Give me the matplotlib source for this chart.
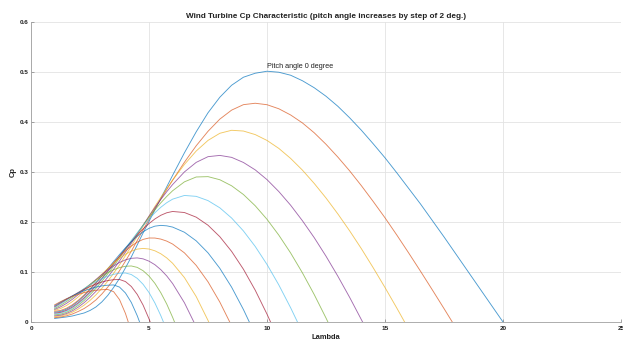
import matplotlib
matplotlib.use("Agg")
import matplotlib.pyplot as plt

plt.rcParams['font.family'] = ['Liberation Sans', 'DejaVu Sans']

# tip speed ratio sample points shared by all curves
lam = [1.0, 1.25, 1.5, 1.75, 2.0, 2.25, 2.5, 2.75, 3.0, 3.25, 3.5, 3.75, 4.0, 4.25,
       4.5, 4.75, 5.0, 5.25, 5.5, 5.75, 6.0, 6.5, 7.0, 7.5, 8.0, 8.5, 9.0, 9.5,
       10.0, 10.5, 11.0, 11.5, 12.0, 12.5, 13.0, 13.5, 14.0, 14.5, 15.0, 15.5,
       16.0, 16.5, 17.0, 17.5, 18.0, 18.5, 19.0, 19.5]

pitch = [0, 2, 4, 6, 8, 10, 12, 14, 16, 18, 20, 22, 24, 26, 28, 30]

# lambda where each curve reaches Cp = 0
lam_zero = [20.0, 17.85, 15.83, 14.05, 12.58, 11.29, 10.15, 9.25, 8.42, 7.53,
            6.9, 6.08, 5.61, 5.05, 4.6, 4.12]

cp_00 = [0.007, 0.0085, 0.010, 0.012, 0.015, 0.018, 0.023, 0.030, 0.040, 0.053,
         0.069, 0.087, 0.108, 0.130, 0.154, 0.178, 0.201, 0.224, 0.247, 0.270,
         0.293, 0.338, 0.380, 0.418, 0.449, 0.473, 0.489, 0.497, 0.501, 0.499,
         0.493, 0.482, 0.468, 0.451, 0.431, 0.408, 0.383, 0.356, 0.328, 0.298,
         0.267, 0.236, 0.203, 0.170, 0.136, 0.102, 0.068, 0.034]
cp_02 = [0.0086, 0.0099, 0.0123, 0.0159, 0.021, 0.0269, 0.0347, 0.0441, 0.0558,
         0.0695, 0.0852, 0.1025, 0.1216, 0.1415, 0.1627, 0.1841, 0.2051, 0.2266,
         0.2457, 0.2647, 0.2833, 0.3191, 0.3521, 0.381, 0.4053, 0.4233, 0.4342,
         0.437, 0.4341, 0.426, 0.4136, 0.3977, 0.378, 0.355, 0.3295, 0.302,
         0.2722, 0.2407, 0.2081, 0.1737, 0.1381, 0.1017, 0.0645, 0.0268]
cp_04 = [0.0105, 0.0118, 0.0148, 0.0194, 0.0258, 0.0336, 0.0431, 0.0542, 0.067,
         0.0814, 0.0973, 0.1143, 0.1326, 0.1515, 0.1713, 0.1911, 0.211, 0.2309,
         0.249, 0.2664, 0.2834, 0.3147, 0.3416, 0.3628, 0.377, 0.383, 0.3815,
         0.3744, 0.3627, 0.3468, 0.3268, 0.3034, 0.2768, 0.2477, 0.216, 0.1822,
         0.1463, 0.1083, 0.0688, 0.0278]
cp_06 = [0.0123, 0.0135, 0.0169, 0.0223, 0.0296, 0.0386, 0.0492, 0.0612, 0.0747,
         0.0895, 0.1053, 0.122, 0.1395, 0.1572, 0.1754, 0.1935, 0.2115, 0.2286,
         0.2448, 0.2602, 0.2746, 0.2998, 0.3189, 0.3303, 0.3328, 0.3289, 0.3187,
         0.3039, 0.2844, 0.2606, 0.2333, 0.2023, 0.1685, 0.1314, 0.0916, 0.0493]
cp_08 = [0.0142, 0.0155, 0.0192, 0.0252, 0.0332, 0.043, 0.0544, 0.0672, 0.0811,
         0.096, 0.1116, 0.1278, 0.1443, 0.1609, 0.1774, 0.1936, 0.2092, 0.2241,
         0.2381, 0.2508, 0.2622, 0.28, 0.2897, 0.2904, 0.2842, 0.2721, 0.2547,
         0.2322, 0.2051, 0.1735, 0.1379, 0.0982, 0.0548, 0.0079]
cp_10 = [0.016, 0.0174, 0.0213, 0.0276, 0.036, 0.0462, 0.0579, 0.071, 0.0851,
         0.1, 0.1155, 0.1313, 0.1472, 0.1628, 0.178, 0.1925, 0.206, 0.2183,
         0.2292, 0.2383, 0.2454, 0.2528, 0.251, 0.2425, 0.2281, 0.2077, 0.1819,
         0.1509, 0.1149, 0.074, 0.0285]
cp_12 = [0.0178, 0.0192, 0.0233, 0.0297, 0.0382, 0.0484, 0.0602, 0.0732, 0.087,
         0.1016, 0.1164, 0.1313, 0.146, 0.1602, 0.1735, 0.1858, 0.1967, 0.2059,
         0.2132, 0.2182, 0.2208, 0.2187, 0.2094, 0.1933, 0.1704, 0.141, 0.1054,
         0.0635, 0.0156]
cp_14 = [0.0196, 0.0211, 0.0255, 0.0324, 0.0415, 0.0523, 0.0646, 0.0779, 0.0919,
         0.1063, 0.1207, 0.1347, 0.148, 0.1603, 0.1711, 0.1802, 0.1871, 0.1915,
         0.193, 0.1921, 0.1896, 0.1793, 0.1621, 0.1381, 0.1072, 0.0695, 0.0249]
cp_16 = [0.0214, 0.023, 0.0274, 0.0343, 0.0433, 0.054, 0.066, 0.0788, 0.0921,
         0.1054, 0.1185, 0.1308, 0.142, 0.1517, 0.1595, 0.165, 0.1678, 0.1677,
         0.1656, 0.1616, 0.1557, 0.1381, 0.113, 0.0802, 0.0398]
cp_18 = [0.0232, 0.0268, 0.0328, 0.0406, 0.050, 0.0605, 0.0719, 0.0836, 0.0954,
         0.1068, 0.1175, 0.1271, 0.1353, 0.1415, 0.1456, 0.147, 0.1458, 0.1422,
         0.1363, 0.128, 0.1173, 0.0887, 0.0507, 0.0031]
cp_20 = [0.025, 0.0302, 0.0371, 0.0453, 0.0546, 0.0644, 0.0747, 0.0849, 0.0947,
         0.1039, 0.1121, 0.1189, 0.1241, 0.1272, 0.128, 0.1261, 0.1215, 0.1144,
         0.1045, 0.092, 0.0768, 0.0384]
cp_22 = [0.0269, 0.0332, 0.0406, 0.0488, 0.0574, 0.0663, 0.0751, 0.0836, 0.0915,
         0.0985, 0.1043, 0.1087, 0.1113, 0.1119, 0.1091, 0.1024, 0.0917, 0.0771,
         0.0584, 0.0359, 0.0093]
cp_24 = [0.0287, 0.0357, 0.0433, 0.0511, 0.0589, 0.0666, 0.074, 0.0807, 0.0866,
         0.0915, 0.0952, 0.0974, 0.0979, 0.0948, 0.0872, 0.0752, 0.0588, 0.0379,
         0.0126]
cp_26 = [0.0305, 0.0378, 0.045, 0.0521, 0.0588, 0.0651, 0.0708, 0.0758, 0.0798,
         0.0828, 0.0845, 0.0849, 0.0808, 0.0709, 0.0551, 0.0336, 0.0062]
cp_28 = [0.0324, 0.0394, 0.046, 0.052, 0.0575, 0.0623, 0.0664, 0.0697, 0.0721,
         0.0735, 0.074, 0.0697, 0.058, 0.039, 0.0126]
cp_30 = [0.0342, 0.0406, 0.0462, 0.0511, 0.0553, 0.0587, 0.0614, 0.0633, 0.0645,
         0.065, 0.0605, 0.0447, 0.0172]

curves = [cp_00, cp_02, cp_04, cp_06, cp_08, cp_10, cp_12, cp_14,
          cp_16, cp_18, cp_20, cp_22, cp_24, cp_26, cp_28, cp_30]

# MATLAB default line colour order
colors = [(0.000, 0.447, 0.741), (0.850, 0.325, 0.098), (0.929, 0.694, 0.125),
          (0.494, 0.184, 0.556), (0.466, 0.674, 0.188), (0.301, 0.745, 0.933),
          (0.635, 0.078, 0.184)]

fig = plt.figure(figsize=(6.23, 3.44), dpi=100)
ax = fig.add_axes([0.0498, 0.064, 0.947, 0.873])

for i, cp in enumerate(curves):
    x = lam[:len(cp)] + [lam_zero[i]]
    y = cp + [0.0]
    ax.plot(x, y, color=colors[i % len(colors)], lw=0.65, alpha=0.7)

ax.text(10.0, 0.51, 'Pitch angle 0 degree', fontsize=5.2, color='#222222',
        ha='left', va='center')

ax.set_xlim(0, 25)
ax.set_ylim(0, 0.6)
ax.set_xticks([0, 5, 10, 15, 20, 25])
ax.set_xticklabels(['0', '5', '10', '15', '20', '25'])
ax.set_yticks([0, 0.1, 0.2, 0.3, 0.4, 0.5, 0.6])
ax.set_yticklabels(['0', '0.1', '0.2', '0.3', '0.4', '0.5', '0.6'])

ax.grid(True, color='#e3e3e3', lw=0.6)
ax.set_axisbelow(True)
for side in ['top', 'right']:
    ax.spines[side].set_visible(False)
for side in ['left', 'bottom']:
    ax.spines[side].set_color('#a0a0a0')
    ax.spines[side].set_linewidth(0.6)
ax.tick_params(direction='in', length=2.5, width=0.5, color='#808080',
               labelsize=4.6, labelcolor='#222222')
ax.tick_params(axis='x', pad=3)
ax.tick_params(axis='y', pad=2)
for lab in ax.get_xticklabels() + ax.get_yticklabels():
    lab.set_fontweight('bold')

ax.set_title('Wind Turbine Cp Characteristic (pitch angle increases by step of 2 deg.)',
             fontsize=5.9, fontweight='bold', color='#222222', pad=3)
ax.set_xlabel('Lambda', fontsize=5.4, fontweight='bold', color='#222222', labelpad=2)
ax.set_ylabel('Cp', fontsize=5.4, fontweight='bold', color='#222222', labelpad=2)

fig.savefig('out.png', dpi=100)
